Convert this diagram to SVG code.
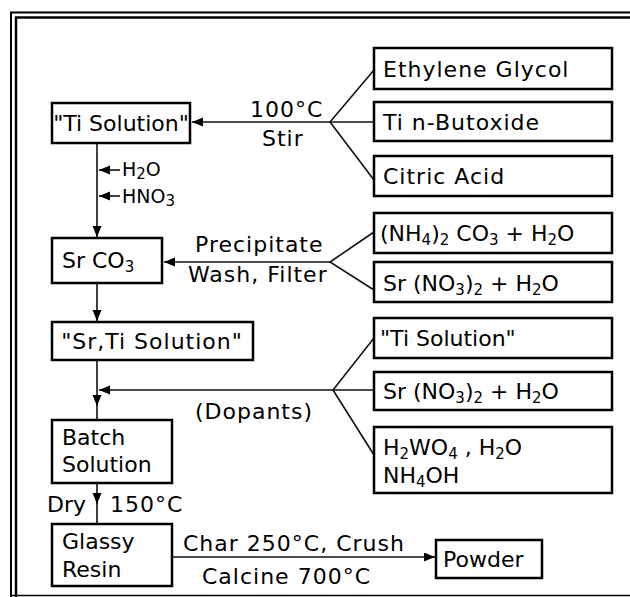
<svg xmlns="http://www.w3.org/2000/svg" width="630" height="597" viewBox="0 0 630 597">
<style>
.box{fill:#fff;stroke:#000;stroke-width:2.5}
.t{font-family:"DejaVu Sans","Liberation Sans",sans-serif;font-size:22px;fill:#000}
.w{letter-spacing:1px}
.m{font-size:19px}
.s{font-size:15px}
.c{stroke:#111;stroke-width:1.6;fill:none}
.fr{stroke:#000;fill:none}
</style>
<defs>
<marker id="ah" markerUnits="userSpaceOnUse" markerWidth="12" markerHeight="10" refX="11" refY="4.5" orient="auto">
<path d="M0,0 L11,4.5 L0,9 z" fill="#000"/>
</marker>
</defs>
<rect width="630" height="597" fill="#fff"/>
<g id="frame">
<line class="fr" x1="10" y1="12.5" x2="630" y2="12.5" stroke-width="2" stroke="#444"/>
<line class="fr" x1="15" y1="17.5" x2="630" y2="17.5" stroke-width="2.5"/>
<line class="fr" x1="11" y1="12" x2="11" y2="597" stroke-width="2" stroke="#444"/>
<line class="fr" x1="16" y1="17" x2="16" y2="597" stroke-width="2.5"/>
<line class="fr" x1="10" y1="595.5" x2="630" y2="595.5" stroke-width="1.5" stroke="#999"/>
</g>
<g id="connectors">
<polyline class="c" points="374,70 330,122 374,180"/>
<line class="c" x1="330" y1="122" x2="374" y2="122"/>
<line class="c" x1="330" y1="122" x2="192" y2="122" marker-end="url(#ah)"/>
<polyline class="c" points="374,232 330,262 374,290"/>
<line class="c" x1="330" y1="262" x2="164" y2="262" marker-end="url(#ah)"/>
<polyline class="c" points="374,338 333,390 374,455"/>
<line class="c" x1="333" y1="390" x2="374" y2="390"/>
<line class="c" x1="333" y1="390" x2="99" y2="390" marker-end="url(#ah)"/>
<line class="c" x1="97" y1="143" x2="97" y2="237" marker-end="url(#ah)"/>
<line class="c" x1="120" y1="170" x2="99" y2="170" marker-end="url(#ah)"/>
<line class="c" x1="120" y1="196" x2="99" y2="196" marker-end="url(#ah)"/>
<line class="c" x1="97" y1="283" x2="97" y2="321" marker-end="url(#ah)"/>
<line class="c" x1="97" y1="360" x2="97" y2="406" marker-end="url(#ah)"/>
<line class="c" x1="97" y1="404" x2="97" y2="420"/>
<line class="c" x1="97" y1="483" x2="97" y2="504" marker-end="url(#ah)"/>
<line class="c" x1="97" y1="502" x2="97" y2="524"/>
<line class="c" x1="172" y1="557" x2="435" y2="557" marker-end="url(#ah)"/>
</g>
<g id="labels">
<text class="t w" x="250" y="117">100°C</text>
<text class="t w" x="262" y="146">Stir</text>
<text class="t m" x="122" y="176">H<tspan class="s" dy="3">2</tspan><tspan dy="-3">O</tspan></text>
<text class="t m" x="122" y="203">HNO<tspan class="s" dy="3">3</tspan></text>
<text class="t w" x="195" y="252">Precipitate</text>
<text class="t w" x="188" y="282">Wash, Filter</text>
<text class="t w" x="195" y="419">(Dopants)</text>
<text class="t" x="47" y="512">Dry</text>
<text class="t w" x="110" y="512">150°C</text>
<text class="t w" x="183" y="551">Char 250°C, Crush</text>
<text class="t w" x="202" y="584">Calcine 700°C</text>
</g>
<g id="ti-solution">
<rect class="box" x="52" y="103" width="138" height="40"/>
<text class="t" x="121" y="131" text-anchor="middle">"Ti Solution"</text>
</g>
<g id="srco3">
<rect class="box" x="52" y="238" width="110" height="45"/>
<text class="t" x="62" y="268">Sr CO<tspan class="s" dy="4">3</tspan></text>
</g>
<g id="srti-solution">
<rect class="box" x="52" y="322" width="201" height="38"/>
<text class="t w" x="152" y="349" text-anchor="middle">"Sr,Ti Solution"</text>
</g>
<g id="batch-solution">
<rect class="box" x="52" y="420" width="120" height="63"/>
<text class="t" x="62" y="445">Batch</text>
<text class="t" x="62" y="472">Solution</text>
</g>
<g id="glassy-resin">
<rect class="box" x="52" y="524" width="120" height="62"/>
<text class="t" x="62" y="549">Glassy</text>
<text class="t" x="62" y="577">Resin</text>
</g>
<g id="powder">
<rect class="box" x="436" y="540" width="106" height="38"/>
<text class="t" x="443" y="567">Powder</text>
</g>
<g id="ethylene-glycol">
<rect class="box" x="374" y="48" width="238" height="41"/>
<text class="t w" x="383" y="77">Ethylene Glycol</text>
</g>
<g id="ti-butoxide">
<rect class="box" x="374" y="102" width="238" height="39"/>
<text class="t w" x="383" y="130">Ti n-Butoxide</text>
</g>
<g id="citric-acid">
<rect class="box" x="374" y="156" width="238" height="40"/>
<text class="t w" x="383" y="184">Citric Acid</text>
</g>
<g id="nh4-co3">
<rect class="box" x="374" y="213" width="238" height="40"/>
<text class="t" x="380" y="241">(NH<tspan class="s" dy="4">4</tspan><tspan dy="-4">)</tspan><tspan class="s" dy="4">2</tspan><tspan dy="-4"> CO</tspan><tspan class="s" dy="4">3</tspan><tspan dy="-4"> + H</tspan><tspan class="s" dy="4">2</tspan><tspan dy="-4">O</tspan></text>
</g>
<g id="srno3-a">
<rect class="box" x="374" y="262" width="238" height="40"/>
<text class="t" x="383" y="291">Sr (NO<tspan class="s" dy="4">3</tspan><tspan dy="-4">)</tspan><tspan class="s" dy="4">2</tspan><tspan dy="-4"> + H</tspan><tspan class="s" dy="4">2</tspan><tspan dy="-4">O</tspan></text>
</g>
<g id="ti-solution-2">
<rect class="box" x="374" y="318" width="238" height="40"/>
<text class="t" x="380" y="346">"Ti Solution"</text>
</g>
<g id="srno3-b">
<rect class="box" x="374" y="372" width="238" height="38"/>
<text class="t" x="383" y="399">Sr (NO<tspan class="s" dy="4">3</tspan><tspan dy="-4">)</tspan><tspan class="s" dy="4">2</tspan><tspan dy="-4"> + H</tspan><tspan class="s" dy="4">2</tspan><tspan dy="-4">O</tspan></text>
</g>
<g id="h2wo4">
<rect class="box" x="374" y="427" width="238" height="66"/>
<text class="t" x="383" y="455">H<tspan class="s" dy="4">2</tspan><tspan dy="-4">WO</tspan><tspan class="s" dy="4">4</tspan><tspan dy="-4"> , H</tspan><tspan class="s" dy="4">2</tspan><tspan dy="-4">O</tspan></text>
<text class="t" x="383" y="483">NH<tspan class="s" dy="4">4</tspan><tspan dy="-4">OH</tspan></text>
</g>
</svg>
